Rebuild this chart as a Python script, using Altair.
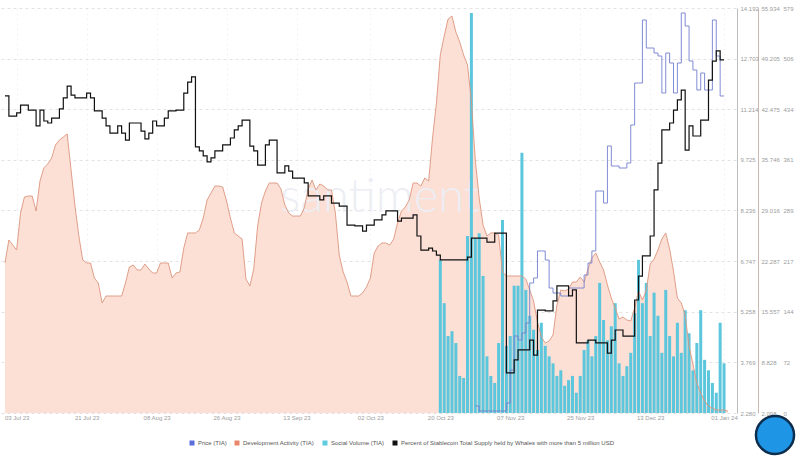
import altair as alt
import pandas as pd

# ---------------- data ----------------
START = pd.Timestamp("2023-06-30")

# Development Activity (TIA), one value per day starting 2023-06-30
dev_activity = [
    22.04, 25.10, 24.43, 23.77, 28.68, 30.81, 30.94, 30.94, 28.95, 32.94,
    34.67, 35.20, 36.00, 37.72, 38.39, 38.79, 39.19, 34.40, 29.61, 25.63,
    22.44, 22.04, 22.04, 20.04, 19.38, 16.72, 17.65, 17.65, 17.65, 17.65,
    17.65, 19.38, 21.51, 21.77, 21.11, 21.11, 21.90, 21.24, 20.71, 20.71,
    22.04, 22.04, 22.04, 20.04, 20.71, 20.84, 24.03, 26.03, 26.03, 26.03,
    26.42, 28.02, 30.41, 31.34, 32.27, 32.27, 32.14, 30.28, 28.02, 26.03,
    25.63, 25.23, 19.91, 18.98, 21.24, 26.96, 30.01, 31.61, 32.67, 32.67,
    32.67, 31.87, 29.75, 28.68, 28.28, 28.28, 28.28, 29.35, 31.87, 33.07,
    31.74, 32.54, 32.27, 31.74, 31.74, 28.68, 23.10, 20.84, 19.51, 17.65,
    17.65, 17.65, 18.05, 18.85, 20.04, 23.37, 24.30, 24.70, 24.70, 24.43,
    25.23, 27.35, 28.95, 29.48, 30.41, 32.67, 32.67, 32.27, 33.34, 32.94,
    38.65, 43.31, 49.69, 52.21, 54.47, 54.87, 52.74, 51.42, 49.69, 48.36,
    43.57, 35.73, 30.68, 27.09, 25.63, 26.03, 26.03, 25.76, 20.84, 20.31,
    20.31, 20.31, 20.31, 20.31, 19.91, 18.45, 16.99, 14.19, 12.20, 11.40,
    11.67, 12.47, 16.45, 18.45, 18.32, 18.58, 19.51, 19.51, 20.18, 19.51,
    21.24, 22.70, 23.37, 22.17, 21.11, 19.11, 17.38, 16.06, 14.59, 14.86,
    14.46, 14.33, 16.06, 18.32, 17.12, 18.45, 21.90, 22.57, 23.77, 25.23,
    26.03, 23.90, 20.97, 17.38, 16.72, 15.12, 11.00, 8.61, 6.09, 4.76,
    3.69, 3.03, 2.76, 2.50, 2.50, 2.50, 2.36,
]

# Percent of stablecoin supply held by whales, one value per day from 2023-06-30
whale_pct = [
    47.83, 47.33, 47.33, 47.41, 47.60, 47.60, 47.48, 47.48, 47.09, 47.48,
    47.21, 47.16, 47.28, 47.28, 47.51, 47.78, 48.07, 47.85, 47.78, 47.78,
    47.78, 47.90, 47.78, 47.46, 47.46, 47.28, 47.09, 46.91, 46.91, 47.09,
    46.91, 46.74, 47.16, 47.16, 47.16, 46.96, 46.77, 46.91, 47.21, 47.09,
    47.09, 47.28, 47.46, 47.46, 47.48, 47.48, 47.90, 48.17, 48.30, 46.57,
    46.47, 46.35, 46.20, 46.30, 46.47, 46.47, 46.62, 46.62, 46.79, 46.99,
    47.09, 47.23, 47.23, 46.59, 46.47, 46.12, 46.12, 46.62, 46.74, 46.74,
    45.93, 45.93, 46.10, 45.97, 45.80, 45.80, 45.80, 45.68, 45.36, 45.36,
    45.36, 45.26, 45.36, 45.36, 45.18, 45.18, 45.11, 45.11, 44.64, 44.64,
    44.62, 44.62, 44.49, 44.64, 44.64, 44.77, 44.77, 44.89, 44.99, 44.99,
    44.99, 44.74, 44.81, 44.81, 44.81, 44.89, 44.37, 44.02, 44.02, 44.07,
    44.00, 43.90, 43.78, 43.78, 43.78, 43.78, 43.78, 43.78, 43.78, 43.85,
    44.32, 44.32, 44.32, 44.32, 44.22, 44.22, 44.44, 44.44, 44.44, 40.99,
    40.99, 41.31, 41.56, 41.56, 41.56, 41.80, 41.43, 42.54, 42.54, 42.52,
    42.52, 42.77, 43.14, 43.14, 43.14, 42.89, 43.04, 41.73, 41.73, 41.73,
    41.80, 41.80, 41.73, 41.73, 41.73, 41.48, 41.80, 42.05, 42.05, 41.90,
    41.90, 41.90, 42.79, 43.38, 43.88, 43.88, 44.37, 45.51, 46.17, 46.99,
    46.99, 47.16, 47.48, 47.73, 47.97, 46.49, 47.09, 46.84, 46.84, 47.23,
    47.23, 48.22, 48.69, 48.94, 48.72, 48.72,
]

# Price (TIA) in USD, daily from day 121 (2023-10-29)
price_start_day = 121
price_usd = [
    2.486, 2.339, 2.339, 2.339, 2.339, 2.339, 2.339, 2.339, 2.574, 3.545,
    4.545, 4.427, 4.633, 4.927, 6.104, 6.251, 7.045, 7.045, 6.780, 5.956,
    5.809, 5.809, 5.721, 5.721, 5.956, 5.956, 5.956, 5.956, 6.339, 6.692,
    7.045, 8.809, 8.809, 8.456, 10.133, 9.545, 9.545, 9.486, 9.486, 9.633,
    10.751, 11.986, 11.986, 13.839, 13.015, 13.015, 12.868, 12.780, 11.692, 12.868,
    12.574, 11.692, 12.574, 14.045, 13.662, 12.633, 12.368, 11.780, 12.280, 11.780,
    11.780, 13.839, 12.780, 11.604, 11.604,
]

# Social Volume (TIA), daily from day 112 (2023-10-20)
social_start_day = 112
social_volume = [
    219, 157, 110, 117, 100, 53, 50, 253, 572, 250,
    257, 196, 81, 53, 43, 100, 276, 96, 110, 182,
    182, 372, 176, 139, 119, 90, 129, 96, 81, 71,
    53, 61, 39, 47, 53, 29, 53, 90, 104, 81,
    110, 186, 133, 104, 124, 157, 71, 53, 67, 86,
    143, 219, 157, 186, 110, 172, 139, 86, 176, 110,
    81, 129, 86, 147, 114, 61, 100, 147, 76, 61,
    43, 29, 129, 71,
]

x_tick_dates = [(2023, 7, 3), (2023, 7, 21), (2023, 8, 8), (2023, 8, 26), (2023, 9, 13),
                (2023, 10, 2), (2023, 10, 20), (2023, 11, 7), (2023, 11, 25),
                (2023, 12, 13), (2024, 1, 1)]
price_ticks = [2.280, 3.769, 5.258, 6.747, 8.236, 9.725, 11.214, 12.703, 14.192]
dev_ticks = [2.098, 8.828, 15.557, 22.287, 29.016, 35.746, 42.475, 49.205, 55.934]
social_ticks = [0, 72.375, 144.75, 217.125, 289.5, 361.875, 434.25, 506.625, 579]

series_names = ["Price (TIA)", "Development Activity (TIA)", "Social Volume (TIA)",
                "Percent of Stablecoin Total Supply held by Whales with more than 5 million USD"]
series_colors = ["#5b6fdc", "#e8876b", "#5fcbe0", "#111111"]


def dates_from(start_day, n):
    return [START + pd.Timedelta(days=start_day + i) for i in range(n)]


dev_df = pd.DataFrame({"date": dates_from(0, len(dev_activity)), "dev": dev_activity})
whale_df = pd.DataFrame({"date": dates_from(0, len(whale_pct)), "whale": whale_pct})
price_df = pd.DataFrame({"date": dates_from(price_start_day, len(price_usd)), "price": price_usd})
social_df = pd.DataFrame({"date": dates_from(social_start_day, len(social_volume)),
                          "social": social_volume})
legend_df = pd.DataFrame({"date": [pd.Timestamp("2023-01-01")] * 4, "series": series_names})

FONT = "'Liberation Sans', sans-serif"
LBL = "#9c9c9c"

x_enc = alt.X(
    "date:T",
    scale=alt.Scale(domain=[alt.DateTime(year=2023, month=6, date=30),
                            alt.DateTime(year=2024, month=1, date=2, hours=19)]),
    axis=alt.Axis(
        values=[alt.DateTime(year=y, month=m, date=d) for (y, m, d) in x_tick_dates],
        format="%d %b %y", title=None, labelFontSize=6, labelColor=LBL, labelFont=FONT,
        ticks=False, domain=False, grid=True, gridColor="#f3f3f3", gridDash=[2, 3],
        labelPadding=1, labelFlush=False, labelOverlap=False,
    ),
)

dev_scale = alt.Scale(domain=[dev_ticks[0], dev_ticks[-1]], nice=False, zero=False)

area = alt.Chart(dev_df).mark_area(color="#fcdfd5", clip=True).encode(
    x=x_enc, y=alt.Y("dev:Q", scale=dev_scale, axis=None)
)

bars = alt.Chart(social_df).mark_bar(size=3, color="#5cc6dd").encode(
    x=x_enc,
    y=alt.Y("social:Q", scale=alt.Scale(domain=[0, 579], nice=False),
            axis=alt.Axis(orient="right", offset=45, values=social_ticks,
                          labelExpr="floor(datum.value)", title=None, labelFontSize=6,
                          labelColor=LBL, labelFont=FONT, ticks=False, domain=False,
                          grid=False, labelPadding=2, labelFlush=False, labelOverlap=False)),
)

dev_line = alt.Chart(dev_df).mark_line(color="#dc957e", strokeWidth=0.9).encode(
    x=x_enc,
    y=alt.Y("dev:Q", scale=dev_scale,
            axis=alt.Axis(orient="right", offset=22, values=dev_ticks, format=".3f",
                          title=None, labelFontSize=6, labelColor=LBL, labelFont=FONT,
                          ticks=False, domain=True, domainColor="#cdb8b0", grid=False,
                          labelPadding=3, labelFlush=False, labelOverlap=False)),
)

price_line = alt.Chart(price_df).mark_line(
    interpolate="step-after", color="#7380cf", strokeWidth=1, opacity=0.9
).encode(
    x=x_enc,
    y=alt.Y("price:Q", scale=alt.Scale(domain=[price_ticks[0], price_ticks[-1]], nice=False, zero=False),
            axis=alt.Axis(orient="right", offset=1, values=price_ticks, format=".3f",
                          title=None, labelFontSize=6, labelColor=LBL, labelFont=FONT,
                          ticks=False, domain=True, domainColor="#bdbdbd", grid=True,
                          gridColor="#e2e2e2", gridDash=[3, 3], labelPadding=3,
                          labelFlush=False, labelOverlap=False)),
)

whale_line = alt.Chart(whale_df).mark_line(
    interpolate="step-after", color="#111111", strokeWidth=1.2
).encode(
    x=x_enc,
    y=alt.Y("whale:Q", scale=alt.Scale(domain=[40, 50], nice=False, zero=False), axis=None),
)

watermark = alt.Chart(pd.DataFrame({"t": ["santiment"]})).mark_text(
    fontSize=47, font="Lato", fontWeight=300, color="#eceef4", align="center", baseline="middle"
).encode(text="t:N", x=alt.value(380), y=alt.value(190))

legend_layer = alt.Chart(legend_df).mark_square(size=25, clip=True, opacity=1).encode(
    x=x_enc,
    color=alt.Color(
        "series:N",
        scale=alt.Scale(domain=series_names, range=series_colors),
        legend=alt.Legend(orient="none", legendX=189, legendY=432, direction="horizontal",
                          title=None, symbolType="square", symbolSize=25, symbolStrokeWidth=0,
                          labelFontSize=6.0, labelColor="#555555", labelFont=FONT,
                          columnPadding=7, labelOffset=3, labelLimit=400),
    ),
)

logo = alt.Chart(pd.DataFrame({"t": ["logo"]})).mark_point(
    filled=True, size=1450, shape="circle", color="#1f95e6", stroke="#0c2d4d", strokeWidth=2.5, opacity=1
).encode(x=alt.value(775), y=alt.value(427))

chart = alt.layer(
    area, watermark, bars, dev_line, price_line, whale_line, legend_layer, logo
).resolve_scale(y="independent").properties(
    width=736, height=405,
    padding={"left": 0, "top": 5, "right": 0, "bottom": 0},
    background="white",
).configure_view(stroke=None)

chart.save("out.html", embed_options={"renderer": "svg", "actions": False})
